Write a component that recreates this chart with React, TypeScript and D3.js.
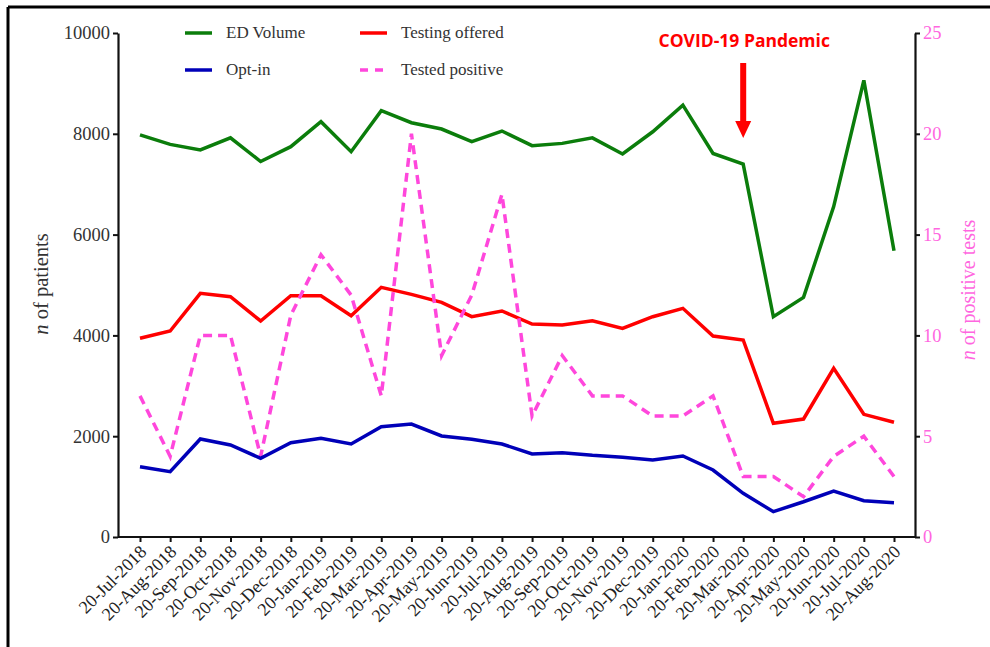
import React, { useRef, useEffect } from 'react'
import * as d3 from 'd3'

// Monthly ED counts (left axis) and positive tests (right axis), Jul 2018 – Aug 2020.
const months = [
  '20-Jul-2018', '20-Aug-2018', '20-Sep-2018', '20-Oct-2018', '20-Nov-2018', '20-Dec-2018',
  '20-Jan-2019', '20-Feb-2019', '20-Mar-2019', '20-Apr-2019', '20-May-2019', '20-Jun-2019',
  '20-Jul-2019', '20-Aug-2019', '20-Sep-2019', '20-Oct-2019', '20-Nov-2019', '20-Dec-2019',
  '20-Jan-2020', '20-Feb-2020', '20-Mar-2020', '20-Apr-2020', '20-May-2020', '20-Jun-2020',
  '20-Jul-2020', '20-Aug-2020',
]

const edVolume = [
  7980, 7790, 7680, 7920, 7450, 7745, 8240, 7645, 8460, 8220, 8095, 7845, 8055,
  7765, 7810, 7920, 7600, 8040, 8570, 7610, 7400, 4370, 4755, 6555, 9060, 5680,
]
const testingOffered = [
  3942, 4087, 4835, 4768, 4286, 4788, 4788, 4391, 4954, 4815, 4656, 4371, 4484,
  4226, 4206, 4292, 4140, 4371, 4537, 3988, 3909, 2256, 2341, 3347, 2434, 2276,
]
const optIn = [
  1395, 1296, 1944, 1825, 1561, 1871, 1958, 1845, 2189, 2242, 2004, 1938, 1845,
  1647, 1673, 1620, 1581, 1528, 1607, 1329, 867, 502, 700, 913, 720, 681,
]
const testedPositive = [
  7, 4, 10, 10, 4, 11, 14, 12, 7, 20, 9, 12, 17,
  6, 9, 7, 7, 6, 6, 7, 3, 3, 2, 4, 5, 3,
]

const leftTicks = [0, 2000, 4000, 6000, 8000, 10000]
const rightTicks = [0, 5, 10, 15, 20, 25]

const GREEN = '#0b7d0b'
const RED = '#ff0000'
const BLUE = '#0000b8'
const PINK = '#ff47dc'
const PINK_TEXT = '#ff66e0'
const SERIF = '"Liberation Serif", "Times New Roman", serif'

export default function App() {
  const svgRef = useRef<SVGSVGElement | null>(null)

  useEffect(() => {
    const svg = d3.select(svgRef.current)
    svg.selectAll('*').remove()

    const left = 118
    const right = 915
    const top = 33
    const bottom = 537

    const x = d3.scalePoint<string>().domain(months).range([140, 894])
    const yL = d3.scaleLinear().domain([0, 10000]).range([bottom, top])
    const yR = d3.scaleLinear().domain([0, 25]).range([bottom, top])

    // cadre de la figure (haut + gauche)
    svg.append('line').attr('x1', 8).attr('x2', 990).attr('y1', 7).attr('y2', 7)
      .attr('stroke', '#000').attr('stroke-width', 3)
    svg.append('line').attr('x1', 8).attr('x2', 8).attr('y1', 7).attr('y2', 647)
      .attr('stroke', '#000').attr('stroke-width', 3)

    // Axes
    svg.append('g')
      .attr('transform', `translate(${left},0)`)
      .call(d3.axisLeft(yL).tickValues(leftTicks).tickSize(5).tickSizeOuter(0).tickPadding(3).tickFormat(d3.format('d')))
      .call((g) => g.select('.domain').attr('stroke', '#111').attr('stroke-width', 2.2))
      .call((g) => g.selectAll('.tick line').attr('stroke', '#111').attr('stroke-width', 2))
      .call((g) => g.selectAll('.tick text').attr('fill', '#333').style('font-family', SERIF).style('font-size', '18.5px'))

    svg.append('g')
      .attr('transform', `translate(${right},0)`)
      .call(d3.axisRight(yR).tickValues(rightTicks).tickSize(5).tickSizeOuter(0).tickPadding(3))
      .call((g) => g.select('.domain').attr('stroke', '#111').attr('stroke-width', 2.2))
      .call((g) => g.selectAll('.tick line').attr('stroke', '#111').attr('stroke-width', 2))
      .call((g) => g.selectAll('.tick text').attr('fill', PINK_TEXT).style('font-family', SERIF).style('font-size', '18.5px'))

    const xAxis = svg.append('g')
      .attr('transform', `translate(0,${bottom})`)
      .call(d3.axisBottom(x).tickSize(5).tickSizeOuter(0))
    xAxis.select('.domain').remove()
    xAxis.selectAll('.tick line').attr('stroke', '#111').attr('stroke-width', 2)
    xAxis.selectAll('.tick text')
      .attr('fill', '#222')
      .style('font-family', SERIF)
      .style('font-size', '18px')
      .attr('text-anchor', 'end')
      .attr('dy', null)
      .attr('y', 0)
      .attr('transform', 'translate(7,16) rotate(-45)')
    svg.append('line')
      .attr('x1', left).attr('x2', right).attr('y1', bottom).attr('y2', bottom)
      .attr('stroke', '#111').attr('stroke-width', 2.2)

    // Titres d'axes
    const yLabel = svg.append('text')
      .attr('transform', `translate(48,284) rotate(-90)`)
      .attr('text-anchor', 'middle')
      .attr('fill', '#333')
      .style('font-family', SERIF)
      .style('font-size', '20.5px')
    yLabel.append('tspan').style('font-style', 'italic').text('n')
    yLabel.append('tspan').text(' of patients')

    const yLabelR = svg.append('text')
      .attr('transform', `translate(975,290) rotate(-90)`)
      .attr('text-anchor', 'middle')
      .attr('fill', PINK_TEXT)
      .style('font-family', SERIF)
      .style('font-size', '20px')
    yLabelR.append('tspan').style('font-style', 'italic').text('n')
    yLabelR.append('tspan').text(' of positive tests')

    // Séries
    const lineL = d3.line<number>().x((_, i) => x(months[i]) as number).y((d) => yL(d))
    const lineR = d3.line<number>().x((_, i) => x(months[i]) as number).y((d) => yR(d))

    const series = [
      { data: edVolume, line: lineL, color: GREEN, dash: null },
      { data: testingOffered, line: lineL, color: RED, dash: null },
      { data: testedPositive, line: lineR, color: PINK, dash: '9,6' },
      { data: optIn, line: lineL, color: BLUE, dash: null },
    ]
    series.forEach((s) => {
      svg.append('path')
        .datum(s.data)
        .attr('fill', 'none')
        .attr('stroke', s.color)
        .attr('stroke-width', 3.5)
        .attr('stroke-linejoin', 'miter')
        .attr('stroke-dasharray', s.dash)
        .attr('d', s.line)
    })

    // Légende
    const legend = [
      { label: 'ED Volume', color: GREEN, dash: null, lx: 185, ly: 33 },
      { label: 'Testing offered', color: RED, dash: null, lx: 360, ly: 33 },
      { label: 'Opt-in', color: BLUE, dash: null, lx: 185, ly: 70 },
      { label: 'Tested positive', color: PINK, dash: '8,7', lx: 360, ly: 70 },
    ]
    legend.forEach((l) => {
      svg.append('line')
        .attr('x1', l.lx).attr('x2', l.lx + 27).attr('y1', l.ly).attr('y2', l.ly)
        .attr('stroke', l.color).attr('stroke-width', 3.5)
        .attr('stroke-dasharray', l.dash)
      svg.append('text')
        .attr('x', l.lx + 41).attr('y', l.ly + 5)
        .attr('fill', '#333')
        .style('font-family', SERIF)
        .style('font-size', '17px')
        .text(l.label)
    })

    // Annotation COVID-19
    const ax = x('20-Mar-2020') as number
    svg.append('text')
      .attr('x', ax + 1).attr('y', 47)
      .attr('text-anchor', 'middle')
      .attr('fill', RED)
      .style('font-family', '"Open Sans", "Liberation Sans", sans-serif')
      .style('font-weight', '700')
      .style('font-size', '17.5px')
      .text('COVID-19 Pandemic')
    svg.append('rect')
      .attr('x', ax - 3).attr('y', 63).attr('width', 6).attr('height', 60)
      .attr('fill', RED)
    svg.append('path')
      .attr('d', `M${ax - 8},121 L${ax + 8},121 L${ax},138 Z`)
      .attr('fill', RED)
  }, [])

  return (
    <svg
      ref={svgRef}
      width={990}
      height={647}
      viewBox="0 0 990 647"
      style={{ position: 'absolute', left: 0, top: 0, background: '#fff', display: 'block' }}
    />
  )
}
